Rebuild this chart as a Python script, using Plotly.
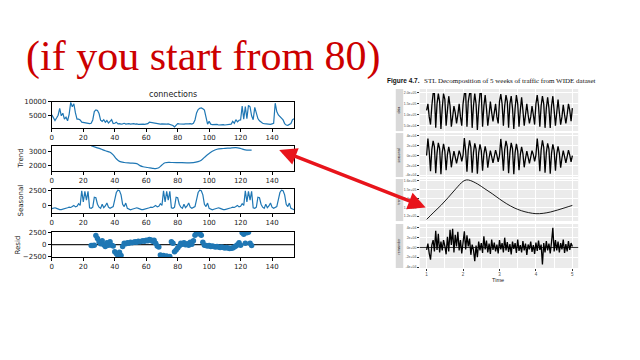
import plotly.graph_objects as go

W, H = 640, 360


def fx(p):
    return p / W


def fy(p):
    return 1 - p / H


# ---------------- Left: seasonal_decompose of "connections" ----------------
conn_x = list(range(155))
connections = [
    5300, 4000, 3300, 4200, 5200, 7600, 5000, 5900, 3800, 4500,
    3200, 5500, 9800, 8200, 9300, 6000, 3800, 3800, 3500, 2700,
    2600, 2400, 2300, 2200, 2200, 2300, 3500, 6500, 7100, 6900,
    5800, 3400, 3000, 3600, 2700, 3300, 2400, 3000, 3600, 2200,
    2300, 2700, 2100, 2200, 2000, 2100, 2300, 2000, 2100, 2200,
    2000, 2100, 2200, 2000, 2100, 1900, 2000, 1900, 2000, 1900,
    2100, 2200, 2700, 2600, 2400, 2200, 2200, 2000, 2100, 2000,
    2100, 2000, 2100, 2000, 2100, 1900, 1800, 1500, 1000, 1700,
    2200, 2100, 2000, 2100, 2000, 2100, 2000, 2100, 2200, 2000,
    2300, 3500, 6000, 7200, 7700, 7800, 7500, 7000, 4500, 2000,
    3000, 2000, 1800, 1900, 1800, 1900, 1700, 1800, 1700, 1800,
    1700, 1800, 1700, 1800, 2000, 3000, 2300, 3600, 2800, 3400,
    3500, 8500, 3800, 8300, 4000, 8700, 8200, 5000, 3600, 8000,
    6000, 4000, 3200, 2600, 2300, 2200, 2100, 2000, 2000, 1900,
    2100, 2300, 9500, 6500, 5300, 4600, 4200, 3500, 2200, 1700,
    1600, 1800, 2200, 3600, 3900,
]

seasonal = [
    -550, -450, -400, -500, -650, -700, -700, -650, -600, -500,
    -400, -300, -350, -200, 0, -250, -150, 300, 0, 2500,
    600, 2400, 900, 2400, -400, -500, -300, 1400, 1300, 200,
    -300, -500, 200, -400, -100, 400, -300, -500, -300, -200,
    1000, 2200, 2600, 2500, 1800, 200, -200, 400, -500, -700,
    -750, -650,
    -550, -450, -400, -500, -650, -700, -700, -650, -600, -500,
    -400, -300, -350, -200, 0, -250, -150, 300, 0, 2500,
    600, 2400, 900, 2400, -400, -500, -300, 1400, 1300, 200,
    -300, -500, 200, -400, -100, 400, -300, -500, -300, -200,
    1000, 2200, 2600, 2500, 1800, 200, -200, 400, -500, -700,
    -750, -650,
    -550, -450, -400, -500, -650, -700, -700, -650, -600, -500,
    -400, -300, -350, -200, 0, -250, -150, 300, 0, 2500,
    600, 2400, 900, 2400, -400, -500, -300, 1400, 1300, 200,
    -300, -500, 200, -400, -100, 400, -300, -500, -300, -200,
    1000, 2200, 2600, 2500, 1800, 200, -200, 400, -500, -700,
    -750,
]

trend_x = [25, 28, 31, 34, 37, 39, 41, 43, 46, 50, 54, 56, 58, 61, 64, 66, 68, 70,
           72, 76, 81, 86, 90, 93, 95, 98, 100, 102, 105, 109, 113, 117, 120, 123, 127]
trend_y = [3390, 3280, 3170, 3040, 2930, 2750, 2480, 2300, 2220, 2180, 2140, 2000,
           1920, 1870, 1810, 1790, 1850, 2050, 2200, 2220, 2210, 2200, 2210, 2280,
           2380, 2680, 2850, 3000, 3150, 3200, 3230, 3260, 3200, 3100, 3090]

resid_x = list(range(25, 128))
resid = [
    -200, -200, -100, 1900, 1300, 600, 200, 800, 0, -400,
    400, -100, 600, -100, -300, -1500, -1900, -2600, -1600, -2300,
    -400, 300, 200, 400, 300, 500, 400, 500, 600, 500,
    700, 600, 700, 800, 700, 900, 800, 1100, 1000, 700,
    900, 300, -300, -500, -2200, -2600, -2300, -2700, -2400, -2700,
    -2500, 600, 300, -1500, -1100, -700, -300, 300, 100, 400,
    0, 200, -100, 500, 100, 800, 2000, 2600, 2300, 2600,
    2000, 500, -100, -200, -300, -200, -400, -300, -400, -500,
    -400, -500, -600, -500, -600, -700, -600, -700, -800, -750,
    -700, -500, -300, 0, 400, -100, 2500, 2200, 300, 2500,
    2600, 300, -200,
]

left_ticks = [0, 20, 40, 60, 80, 100, 120, 140]

# ---------------- Right: STL decomposition (WIDE dataset) ----------------
stl_t = [1 + i / 28 for i in range(113)]
stl_data = [
    1.2, 1.5, 0.9, 0.55, 1.4, 1.97, 1.97, 0.4, 1.5, 1.97, 1.6, 0.35, 1.3, 1.97, 1.7, 0.5,
    1.2, 1.85, 1.4, 0.45, 0.9, 1.4, 1.1, 0.6, 1.0, 1.5, 0.9, 0.5,
    1.5, 1.97, 1.97, 0.45, 1.6, 1.97, 1.97, 0.4, 1.4, 1.97, 1.5, 0.3, 1.3, 1.97, 1.97, 0.45,
    1.4, 1.9, 1.3, 0.5, 1.0, 1.6, 1.1, 0.7, 1.1, 1.5, 0.9, 0.6,
    1.6, 1.95, 1.5, 0.5, 1.4, 1.9, 1.6, 0.4, 1.5, 1.85, 1.3, 0.35, 1.3, 1.9, 1.5, 0.45,
    1.2, 1.8, 1.2, 0.5, 1.0, 1.5, 1.0, 0.6, 0.9, 1.4, 1.0, 0.55,
    1.5, 1.9, 1.4, 0.45, 1.4, 1.85, 1.5, 0.4, 1.3, 1.8, 1.3, 0.4, 1.4, 1.85, 1.2, 0.5,
    1.1, 1.7, 1.1, 0.55, 0.9, 1.45, 1.0, 0.6, 1.0, 1.5, 1.2, 0.7,
    1.3,
]
stl_seasonal = [
    0.0, 3.5, 0.8, -3.2, 1.2, 3.0, 1.8, -3.6, 0.5, 2.6, 1.4, -3.8, 0.6, 2.4, 0.9, -3.0,
    0.2, 1.8, 0.4, -2.4, -0.6, 0.9, -0.3, -1.6, -0.3, 1.0, 0.2, -1.2,
    0.1, 3.6, 0.9, -3.3, 1.1, 3.1, 1.7, -3.5, 0.6, 2.5, 1.3, -3.7, 0.5, 2.3, 1.0, -3.1,
    0.3, 1.9, 0.5, -2.5, -0.5, 1.0, -0.2, -1.5, -0.2, 1.1, 0.1, -1.3,
    0.0, 3.4, 0.8, -3.1, 1.2, 3.0, 1.8, -3.6, 0.5, 2.6, 1.4, -3.8, 0.6, 2.4, 0.9, -3.0,
    0.2, 1.8, 0.4, -2.4, -0.6, 0.9, -0.3, -1.6, -0.3, 1.0, 0.2, -1.2,
    0.1, 3.5, 0.9, -3.2, 1.1, 3.1, 1.7, -3.5, 0.6, 2.5, 1.3, -3.7, 0.5, 2.3, 1.0, -3.1,
    0.3, 1.9, 0.5, -2.5, -0.5, 1.0, -0.2, -1.5, -0.2, 1.1, 0.1, -1.3,
    0.0,
]
stl_trend_x = [1.0, 1.2, 1.4, 1.6, 1.8, 2.0, 2.1, 2.2, 2.4, 2.6, 2.8, 3.0, 3.2, 3.4,
               3.6, 3.8, 4.0, 4.2, 4.4, 4.6, 4.8, 5.0]
stl_trend_y = [1.163, 1.245, 1.325, 1.415, 1.51, 1.595, 1.612, 1.605, 1.565, 1.51,
               1.455, 1.395, 1.34, 1.295, 1.262, 1.24, 1.228, 1.232, 1.247, 1.27,
               1.296, 1.322]
stl_remainder = [
    -0.5, 0.8, -1.2, -2.5, 0.5, 1.5, -0.8, 3.4, -0.5, 2.8, -1.0, 1.2,
    -0.6, 1.5, 0.3, -1.4, 2.2, -0.8, 3.6, 0.5, 3.8, -1.0, 2.6, 0.2,
    3.2, -0.6, 1.5, -1.2, 1.0, 3.3, -0.4, 2.5, 0.2, 1.8, -1.5, 0.6,
    -0.5, -2.8, 0.4, -2.0, 1.2, -0.6, 0.9, -1.1, 2.3, -0.4, 1.4, -1.0,
    0.8, -1.3, 1.6, -0.5, 1.0, -0.8, 0.6, -1.2, 1.5, -0.4, 0.9, -1.0,
    2.0, -0.6, 1.1, -0.9, 0.7, -1.4, 1.2, -0.3, 0.9, -1.1, 1.6, -0.7,
    0.5, -1.0, 1.3, -0.6, 0.8, -1.5, 0.6, -0.4, 1.2, -0.9, 0.5, -1.3,
    1.0, -0.7, 1.4, -0.5, 0.6, -3.5, 0.9, -1.0, 1.3, -0.6, 0.8, -1.2,
    1.1, 4.0, -0.8, 1.5, -0.6, 1.2, -1.0, 0.9, -0.4, 1.6, -1.1, 0.7,
    -0.8, 1.3, -0.5, 0.9, 0.2,
]

right_xticks = [1, 2, 3, 4, 5]
data_ticks = [0.5, 1.0, 1.5, 2.0]
data_ticklabels = ["5.0e+04", "1.0e+05", "1.5e+05", "2.0e+05"]
sym_ticks = [-4, -2, 0, 2, 4]
sym_ticklabels = ["-4e+04", "-2e+04", "0e+00", "2e+04", "4e+04"]
trend_ticks = [1.2, 1.3, 1.4, 1.5, 1.6]
trend_ticklabels = ["1.2e+05", "1.3e+05", "1.4e+05", "1.5e+05", "1.6e+05"]

# ---------------- Figure ----------------
fig = go.Figure()
BLUE = "#1f77b4"

fig.add_trace(go.Scatter(x=conn_x, y=connections, mode="lines",
                         line=dict(color=BLUE, width=1.2), xaxis="x", yaxis="y"))
fig.add_trace(go.Scatter(x=trend_x, y=trend_y, mode="lines",
                         line=dict(color=BLUE, width=1.2, shape="spline"), xaxis="x2", yaxis="y2"))
fig.add_trace(go.Scatter(x=conn_x, y=seasonal, mode="lines",
                         line=dict(color=BLUE, width=1.2), xaxis="x3", yaxis="y3"))
fig.add_trace(go.Scatter(x=resid_x, y=resid, mode="markers",
                         marker=dict(color=BLUE, size=5.5), xaxis="x4", yaxis="y4"))

fig.add_trace(go.Scatter(x=stl_t, y=stl_data, mode="lines",
                         line=dict(color="black", width=1.3), xaxis="x5", yaxis="y5"))
fig.add_trace(go.Scatter(x=stl_t, y=stl_seasonal, mode="lines",
                         line=dict(color="black", width=1.3), xaxis="x6", yaxis="y6"))
fig.add_trace(go.Scatter(x=stl_trend_x, y=stl_trend_y, mode="lines",
                         line=dict(color="black", width=0.9, shape="spline"), xaxis="x7", yaxis="y7"))
fig.add_trace(go.Scatter(x=stl_t, y=stl_remainder, mode="lines",
                         line=dict(color="black", width=1.3), xaxis="x8", yaxis="y8"))

LX = [fx(50), fx(293)]
left_rows = [(100, 127), (145, 171), (189, 214), (233, 259)]
left_ranges = [[560, 10000], [1610, 3390], [-1333, 2830], [-2650, 2700]]
left_yticks = [[5000, 10000], [2000, 3000], [0, 2500], [-2500, 0, 2500]]
left_yticktext = [["5000", "10000"], ["2000", "3000"], ["0", "2500"], ["\u22122500", "0", "2500"]]

tickfont = dict(family="DejaVu Sans", size=7, color="#222")
layout = dict(width=W, height=H, margin=dict(l=0, r=0, t=0, b=0),
              paper_bgcolor="white", plot_bgcolor="white", showlegend=False)

for i, (top, bot) in enumerate(left_rows):
    n = "" if i == 0 else str(i + 1)
    layout["xaxis" + n] = dict(domain=LX, range=[0, 154], anchor="y" + n,
                               tickvals=left_ticks, ticks="outside", ticklen=2.5,
                               tickcolor="black", showline=True, mirror=True,
                               linecolor="black", linewidth=0.8, showgrid=False,
                               zeroline=False, tickfont=tickfont)
    layout["yaxis" + n] = dict(domain=[fy(bot), fy(top)], range=left_ranges[i],
                               anchor="x" + n, tickvals=left_yticks[i],
                               ticktext=left_yticktext[i], ticks="outside", ticklen=3,
                               tickcolor="black", showline=True, mirror=True,
                               linecolor="black", linewidth=0.8, showgrid=False,
                               zeroline=False, tickfont=tickfont)

RX = [fx(419), fx(578)]
right_rows = [(87, 130), (132, 177), (179, 222), (225, 270)]
right_ranges = [[0.25, 2.176], [-4.4, 4.6], [1.144, 1.622], [-4.2, 4.8]]
right_ytv = [data_ticks, sym_ticks, trend_ticks, sym_ticks]
right_ytt = [data_ticklabels, sym_ticklabels, trend_ticklabels, sym_ticklabels]
rfont = dict(family="Liberation Sans", size=3.5, color="#4d4d4d")
for i, (top, bot) in enumerate(right_rows):
    n = str(i + 5)
    last = i == 3
    layout["xaxis" + n] = dict(domain=RX, range=[0.81, 5.16], anchor="y" + n,
                               tickvals=right_xticks, showticklabels=last,
                               ticks="outside" if last else "", ticklen=1.5,
                               tickcolor="#333", showgrid=True, gridcolor="white",
                               gridwidth=0.8, zeroline=False, showline=False,
                               minor=dict(dtick=0.5, showgrid=True, gridcolor="white", gridwidth=0.4),
                               tickfont=dict(family="Liberation Sans", size=4.5, color="#4d4d4d"))
    layout["yaxis" + n] = dict(domain=[fy(bot), fy(top)], range=right_ranges[i],
                               anchor="x" + n, tickvals=right_ytv[i], ticktext=right_ytt[i],
                               ticks="outside", ticklen=1.5, tickcolor="#333",
                               showgrid=True, gridcolor="white", gridwidth=0.8,
                               zeroline=False, showline=False, tickfont=rfont)

shapes = []
strip_labels = ["data", "seasonal", "trend", "remainder"]
annotations = []
for i, (top, bot) in enumerate(right_rows):
    n = str(i + 5)
    shapes.append(dict(type="rect", xref="x" + n + " domain", yref="y" + n + " domain",
                       x0=0, x1=1, y0=0, y1=1, fillcolor="#ebebeb",
                       line=dict(width=0), layer="below"))
    shapes.append(dict(type="rect", xref="paper", yref="paper", x0=fx(395), x1=fx(402.5),
                       y0=fy(bot), y1=fy(top), fillcolor="#d9d9d9", line=dict(width=0),
                       layer="below"))
    annotations.append(dict(x=fx(398.7), y=fy((top + bot) / 2), xref="paper", yref="paper",
                            xanchor="center", yanchor="middle",
                            text=strip_labels[i], showarrow=False, textangle=-90,
                            font=dict(family="Liberation Sans", size=3.5, color="#1a1a1a")))
# zero line in remainder panel
shapes.append(dict(type="line", xref="x8 domain", yref="y8", x0=0, x1=1, y0=0, y1=0,
                   line=dict(color="black", width=0.8)))
# zero line in resid panel
shapes.append(dict(type="line", xref="x4 domain", yref="y4", x0=0, x1=1, y0=0, y1=0,
                   line=dict(color="#222", width=1.2), layer="below"))


def note(x, y, text, font, angle=0, xanchor="center"):
    return dict(x=fx(x), y=fy(y), xref="paper", yref="paper", text=text,
                showarrow=False, textangle=angle, xanchor=xanchor, yanchor="middle",
                font=font)


annotations += [
    note(202, 54, "(if you start from 80)",
         dict(family="Liberation Serif", size=42, color="#cc0000")),
    note(172, 93, "connections", dict(family="DejaVu Sans", size=8, color="#222")),
    note(20, 158, "Trend", dict(family="DejaVu Sans", size=7, color="#222"), -90),
    note(19, 201, "Seasonal", dict(family="DejaVu Sans", size=7, color="#222"), -90),
    note(16, 246, "Resid", dict(family="DejaVu Sans", size=7, color="#222"), -90),
    note(384, 79, "<b>Figure 4.7.</b>",
         dict(family="Liberation Sans", size=6.5, color="#111"), 0, "left"),
    note(421, 79, "STL Decomposition of 5 weeks of traffic from WIDE dataset",
         dict(family="Liberation Serif", size=7, color="#111"), 0, "left"),
    note(498, 282.5, "Time", dict(family="Liberation Sans", size=5.5, color="#222")),
    # double-headed red arrow (tail offset given in pixels)
    dict(x=fx(425), y=fy(208), ax=277 - 425, ay=150 - 208, xref="paper", yref="paper",
         axref="pixel", ayref="pixel", text="", showarrow=True, arrowhead=2,
         arrowside="end+start", arrowwidth=3.5, arrowsize=1, arrowcolor="#e8141b"),
]
layout["shapes"] = shapes
layout["annotations"] = annotations
fig.update_layout(**layout)
fig.write_html("out.html")
